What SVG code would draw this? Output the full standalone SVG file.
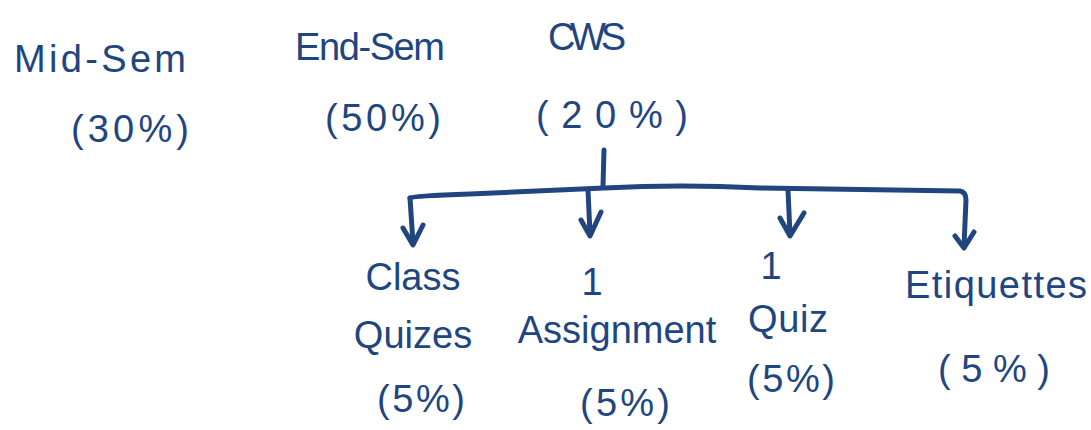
<svg xmlns="http://www.w3.org/2000/svg" width="1091" height="430" viewBox="0 0 1091 430">
<style>
text{font-family:"Liberation Sans",Arial,sans-serif;fill:#21467f;font-size:38px;text-anchor:middle}
.ln{fill:none;stroke:#21467f;stroke-width:5;stroke-linecap:round;stroke-linejoin:round}
</style>
<rect width="1091" height="430" fill="#ffffff"/>
<g id="midsem"><text x="100" y="72" font-size="44" textLength="172">Mid-Sem</text><text x="130" y="142" font-size="48" textLength="118">(30%)</text></g>
<g id="endsem"><text x="370" y="60" textLength="150">End-Sem</text><text x="383" y="131" font-size="48" textLength="116">(50%)</text></g>
<g id="cws"><text x="587" y="50" font-size="40" textLength="78">CWS</text><text x="612" y="128" font-size="48" textLength="152">(20%)</text></g>
<g id="classquizes"><text x="413" y="290" font-size="34">Class</text><text x="413" y="348" font-size="34">Quizes</text><text x="421" y="412" font-size="46" textLength="88">(5%)</text></g>
<g id="assignment"><text x="592" y="295">1</text><text x="617" y="343" font-size="34">Assignment</text><text x="625" y="416" font-size="46" textLength="90">(5%)</text></g>
<g id="quiz"><text x="771" y="279">1</text><text x="788" y="332" textLength="80">Quiz</text><text x="791" y="392" font-size="46" textLength="88">(5%)</text></g>
<g id="etiquettes"><text x="996" y="298" font-size="40" textLength="182">Etiquettes</text><text x="994" y="382" font-size="48" textLength="112">(5%)</text></g>
<g id="connectors">
<path class="ln" d="M604 150 L603 186"/>
<path class="ln" d="M410 198 Q412 196 470 194 L604 188 Q680 184 760 188 L960 191 Q966 192 966 200 L964 246"/>
<path class="ln" d="M410 198 L413 243"/>
<path class="ln" d="M403 228 L413 245 L423 225"/>
<path class="ln" d="M588 190 L590 234"/>
<path class="ln" d="M581 220 L590 236 L601 212"/>
<path class="ln" d="M788 190 L790 235"/>
<path class="ln" d="M780 218 L790 236 L804 213"/>
<path class="ln" d="M955 236 L964 248 L974 232"/>
</g>
</svg>
